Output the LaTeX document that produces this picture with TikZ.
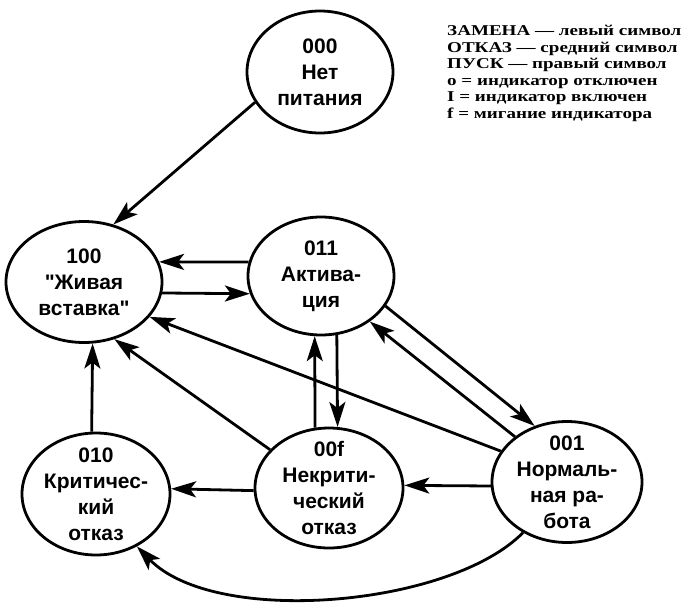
\documentclass[tikz,border=0pt]{standalone}
\usepackage{fontspec}
\setmainfont{Liberation Sans}[Ligatures=TeXOff]
\newfontfamily\legendfont{Liberation Serif}
\usetikzlibrary{arrows.meta,shapes.geometric}
\begin{document}
\begin{tikzpicture}[x=1pt,y=-1pt,
  st/.style={draw, line width=2.8pt, ellipse, minimum width=148pt, minimum height=120pt, inner sep=0pt},
  lbl/.style={align=center, font=\fontsize{21}{26}\selectfont\bfseries, inner sep=0pt},
  arr/.style={line width=2.8pt, -{Stealth[length=25pt,width=16pt,inset=6pt]}},
  legend/.style={anchor=north west, align=left, inner sep=0pt, font=\legendfont\bfseries\fontsize{15}{16.6}\selectfont}]
\useasboundingbox (0,0) rectangle (683,603);
\node[st, minimum width=146pt, minimum height=122pt] (n000) at (320,72) {};
\node[lbl] (t000) at (n000) {000\\Нет\\питания};
\node[st, minimum width=156pt, minimum height=121pt] (n100) at (84,282) {};
\node[lbl] (t100) at (n100) {100\\"Живая\\вставка"};
\node[st, minimum width=146pt, minimum height=118pt] (n011) at (321,276) {};
\node[lbl] (t011) at (n011) {011\\Актива-\\ция};
\node[st, minimum height=122pt] (n010) at (96,494) {};
\node[lbl] (t010) at (n010) {010\\Критичес-\\кий\\отказ};
\node[st] (n00f) at (329,488) {};
\node[lbl] (t00f) at (n00f) {00f\\Некрити-\\ческий\\отказ};
\node[st, minimum width=150pt, minimum height=121pt] (n001) at (567,482) {};
\node[lbl] (t001) at (n001) {001\\Нормаль-\\ная ра-\\бота};

\draw[arr] (n000.205) -- (n100.63);
\draw[arr] (n011.169) -- (n100.15);
\draw[arr] (n100.-8) -- (n011.-166);
\draw[arr] (n001.155) -- (n100.-28);
\draw[arr] (n00f.147) -- (n100.-62);
\draw[arr] (n010.94) -- (n100.-82);
\draw[arr] (n00f.103) -- (n011.-96);
\draw[arr] (n011.-75) -- (n00f.82);
\draw[arr] (n011.-25) -- (n001.120);
\draw[arr] (n001.139) -- (n011.-43);
\draw[arr] (n001.-177) -- (n00f.2);
\draw[arr] (n00f.182) -- (n010.4);
\draw[arr] (n001.-131) .. controls (450,607) and (215,627) .. (n010.-52);

\node[legend] (leg) at (447,25) {\scalebox{1.27}[1]{ЗАМЕНА — левый символ}\\\scalebox{1.27}[1]{ОТКАЗ — средний символ}\\\scalebox{1.27}[1]{ПУСК — правый символ}\\\scalebox{1.27}[1]{o = индикатор отключен}\\\scalebox{1.27}[1]{I = индикатор включен}\\\scalebox{1.27}[1]{f = мигание индикатора}};
\end{tikzpicture}
\end{document}
